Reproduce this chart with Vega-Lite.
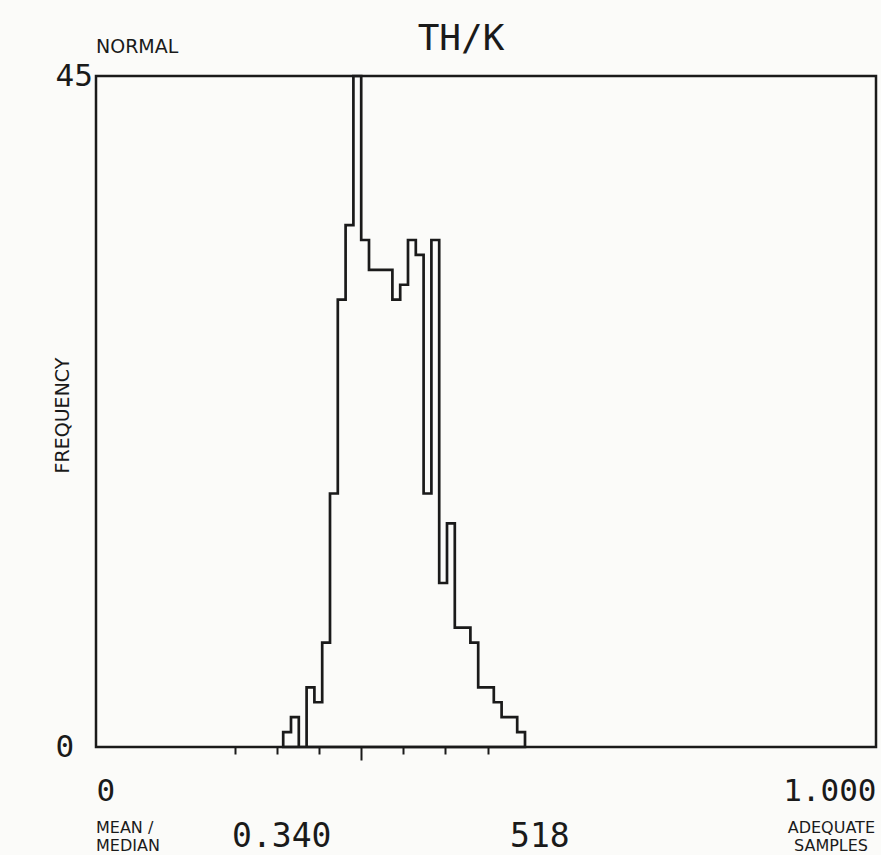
{
  "$schema": "https://vega.github.io/schema/vega-lite/v6.json",
  "width": 780,
  "height": 671,
  "autosize": {"type": "none"},
  "padding": {"left": 96, "top": 76, "right": 5, "bottom": 108},
  "background": "#fbfbf9",
  "config": {"view": {"stroke": "#1a1a1a", "strokeWidth": 2.5}},
  "layer": [
    {
      "data": {"values": [
        {"bin": 0.24, "count": 1}, {"bin": 0.25, "count": 2}, {"bin": 0.26, "count": 0}, {"bin": 0.27, "count": 4},
        {"bin": 0.28, "count": 3}, {"bin": 0.29, "count": 7}, {"bin": 0.30, "count": 17}, {"bin": 0.31, "count": 30},
        {"bin": 0.32, "count": 35}, {"bin": 0.33, "count": 45}, {"bin": 0.34, "count": 34}, {"bin": 0.35, "count": 32},
        {"bin": 0.36, "count": 32}, {"bin": 0.37, "count": 32}, {"bin": 0.38, "count": 30}, {"bin": 0.39, "count": 31},
        {"bin": 0.40, "count": 34}, {"bin": 0.41, "count": 33}, {"bin": 0.42, "count": 17}, {"bin": 0.43, "count": 34},
        {"bin": 0.44, "count": 11}, {"bin": 0.45, "count": 15}, {"bin": 0.46, "count": 8}, {"bin": 0.47, "count": 8},
        {"bin": 0.48, "count": 7}, {"bin": 0.49, "count": 4}, {"bin": 0.50, "count": 4}, {"bin": 0.51, "count": 3},
        {"bin": 0.52, "count": 2}, {"bin": 0.53, "count": 2}, {"bin": 0.54, "count": 1}, {"bin": 0.55, "count": 0}
      ]},
      "mark": {"type": "area", "interpolate": "step-after", "fillOpacity": 0, "stroke": "#1a1a1a", "strokeWidth": 2.7},
      "encoding": {
        "x": {"field": "bin", "type": "quantitative", "scale": {"domain": [0, 1], "nice": false, "zero": false},
          "axis": {"values": [0, 0.178, 0.232, 0.286, 0.34, 0.394, 0.448, 0.502, 1], "title": null, "domain": false, "grid": false,
            "ticks": true, "tickSize": {"condition": {"test": "datum.value === 0.34", "value": 13}, "value": 7},
            "tickWidth": 2, "tickColor": "#1a1a1a",
            "tickOpacity": {"condition": {"test": "datum.value === 0 || datum.value === 1", "value": 0}, "value": 1},
            "labelExpr": "datum.value === 0 ? '0' : datum.value === 1 ? '1.000' : ''",
            "labelFlush": true, "labelOverlap": false, "labelFont": "DejaVu Sans Mono", "labelFontSize": 31,
            "labelColor": "#1a1a1a", "labelPadding": 22}},
        "y": {"field": "count", "type": "quantitative", "scale": {"domain": [0, 45], "nice": false},
          "axis": {"values": [0, 45], "title": "FREQUENCY", "domain": false, "grid": false, "ticks": false, "tickSize": 0,
            "labelAlign": "left", "labelBaseline": "middle", "labelPadding": 41, "labelFont": "DejaVu Sans Mono",
            "labelFontSize": 31, "labelColor": "#1a1a1a", "labelOverlap": false,
            "titleFont": "DejaVu Sans", "titleFontSize": 19, "titleFontWeight": "normal", "titleColor": "#1a1a1a",
            "titleX": -34, "titleY": 339, "titleAngle": 270, "titleBaseline": "middle", "titleAlign": "center"}}
      }
    },
    {
      "data": {"values": [{"label": "TH/K"}]},
      "mark": {"type": "text", "align": "center", "baseline": "alphabetic", "font": "DejaVu Sans Mono", "fontSize": 36, "color": "#1a1a1a"},
      "encoding": {"x": {"datum": 0.468}, "y": {"datum": 46.74}, "text": {"field": "label"}}
    },
    {
      "data": {"values": [{"label": "NORMAL"}]},
      "mark": {"type": "text", "align": "left", "baseline": "alphabetic", "font": "DejaVu Sans", "fontSize": 19, "color": "#1a1a1a"},
      "encoding": {"x": {"datum": 0}, "y": {"datum": 46.54}, "text": {"field": "label"}}
    },
    {
      "data": {"values": [{"label": "MEAN /"}]},
      "mark": {"type": "text", "align": "left", "baseline": "alphabetic", "font": "DejaVu Sans", "fontSize": 16, "color": "#1a1a1a"},
      "encoding": {"x": {"datum": 0}, "y": {"datum": -5.77}, "text": {"field": "label"}}
    },
    {
      "data": {"values": [{"label": "MEDIAN"}]},
      "mark": {"type": "text", "align": "left", "baseline": "bottom", "font": "DejaVu Sans", "fontSize": 16, "color": "#1a1a1a"},
      "encoding": {"x": {"datum": 0}, "y": {"datum": -7.2}, "text": {"field": "label"}}
    },
    {
      "data": {"values": [{"label": "0.340"}]},
      "mark": {"type": "text", "align": "left", "baseline": "bottom", "font": "DejaVu Sans Mono", "fontSize": 33, "color": "#1a1a1a"},
      "encoding": {"x": {"datum": 0.1744}, "y": {"datum": -7.2}, "text": {"field": "label"}}
    },
    {
      "data": {"values": [{"label": "518"}]},
      "mark": {"type": "text", "align": "left", "baseline": "bottom", "font": "DejaVu Sans Mono", "fontSize": 33, "color": "#1a1a1a"},
      "encoding": {"x": {"datum": 0.5308}, "y": {"datum": -7.2}, "text": {"field": "label"}}
    },
    {
      "data": {"values": [{"label": "ADEQUATE"}]},
      "mark": {"type": "text", "align": "right", "baseline": "alphabetic", "font": "DejaVu Sans", "fontSize": 16, "color": "#1a1a1a"},
      "encoding": {"x": {"datum": 0.9987}, "y": {"datum": -5.77}, "text": {"field": "label"}}
    },
    {
      "data": {"values": [{"label": "SAMPLES"}]},
      "mark": {"type": "text", "align": "center", "baseline": "bottom", "font": "DejaVu Sans", "fontSize": 16, "color": "#1a1a1a"},
      "encoding": {"x": {"datum": 0.9423}, "y": {"datum": -7.2}, "text": {"field": "label"}}
    }
  ]
}
